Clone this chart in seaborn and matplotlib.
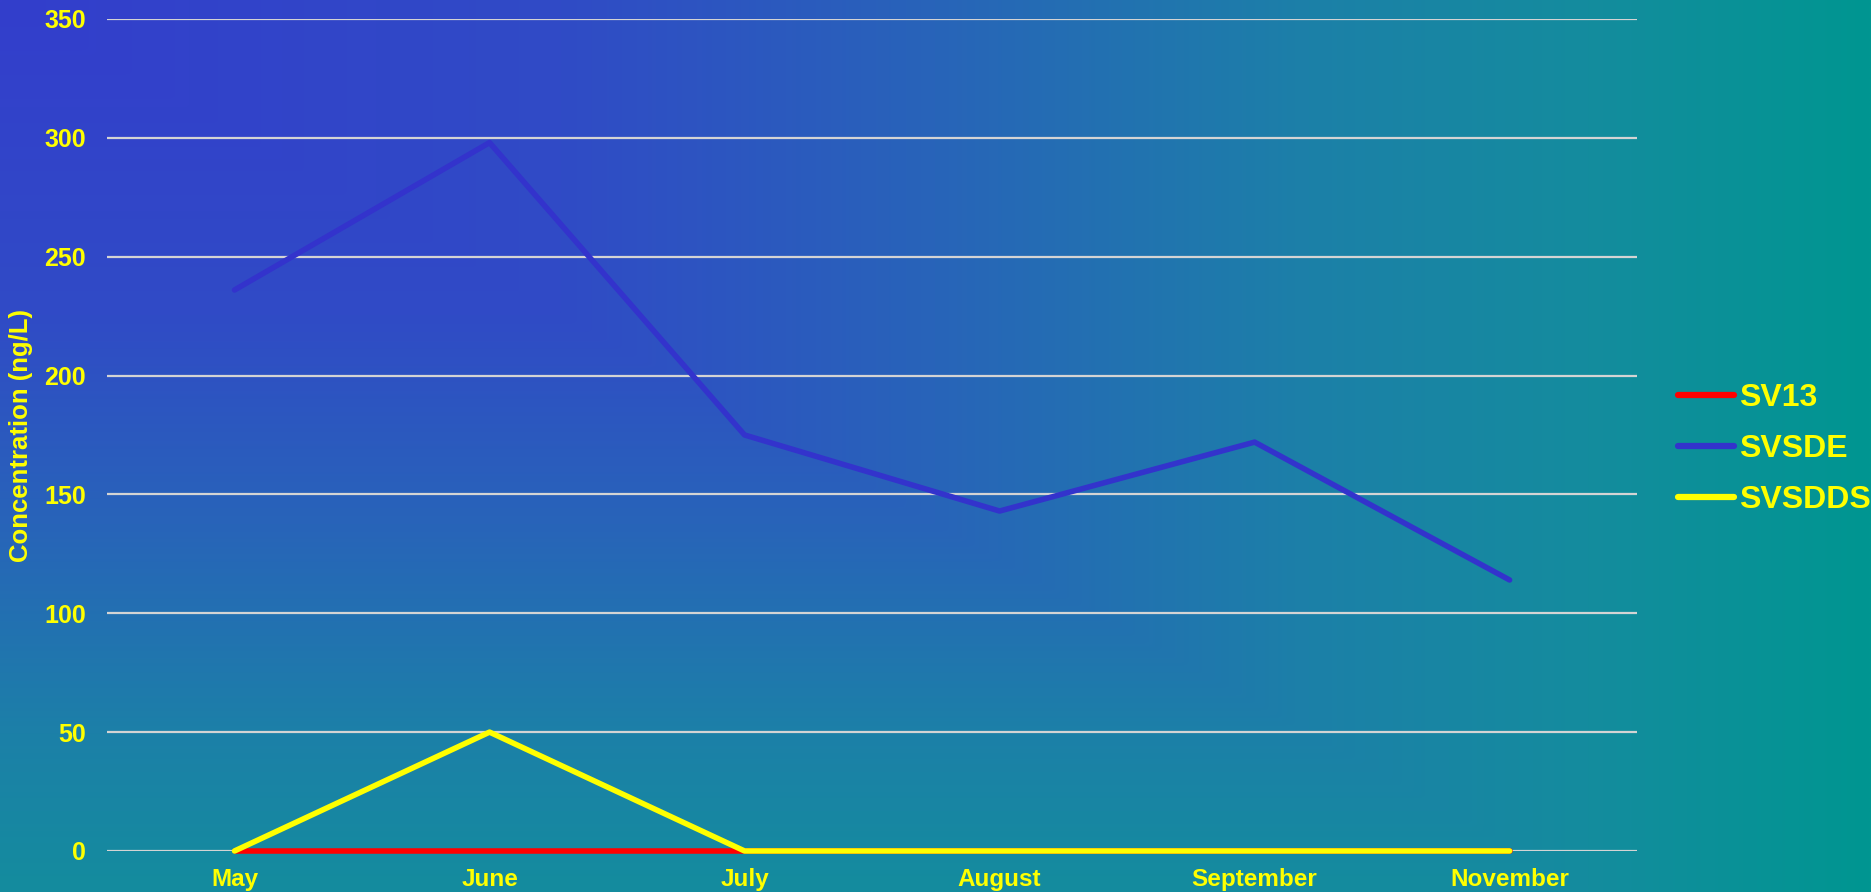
import numpy as np
import pandas as pd
import matplotlib
matplotlib.use("Agg")
import matplotlib.pyplot as plt
import seaborn as sns

months = ["May", "June", "July", "August", "September", "November"]
sv13 = [0, 0, 0, 0, 0, 0]
svsde = [236, 298, 175, 143, 172, 114]
svsdds = [0, 50, 0, 0, 0, 0]
series_names = ["SV13", "SVSDE", "SVSDDS"]
series_colors = ["#FF0000", "#3333CC", "#FFFF00"]
y_ticks = [0, 50, 100, 150, 200, 250, 300, 350]

df = pd.DataFrame({
    "month": months * 3,
    "value": sv13 + svsde + svsdds,
    "series": [s for s in series_names for _ in months],
})

sns.set_style("white")
plt.rcParams["font.family"] = ["Liberation Sans", "DejaVu Sans"]

fig = plt.figure(figsize=(18.71, 8.92), dpi=100)

# gradient background: blue in the top-left corner fading to teal
bg = fig.add_axes([0, 0, 1, 1], zorder=-10)
h, w = 180, 380
yy, xx = np.mgrid[0:1:h * 1j, 0:1:w * 1j]
t = np.maximum(xx, 0.85 * yy)
stops = [0, 0.3, 0.5, 0.7, 0.85, 1.0]
cols = np.array([[51, 62, 204], [48, 75, 198], [40, 100, 185],
                 [28, 128, 168], [20, 140, 158], [0, 150, 145]]) / 255
img = np.stack([np.interp(t, stops, cols[:, k]) for k in range(3)], axis=-1)
bg.imshow(img, aspect="auto", extent=[0, 1, 0, 1], interpolation="bilinear")
bg.set_axis_off()

ax = fig.add_axes([0.0572, 0.046, 0.8178, 0.9327])
ax.set_facecolor("none")

sns.lineplot(data=df, x="month", y="value", hue="series", hue_order=series_names,
             palette=series_colors, sort=False, linewidth=4.0, ax=ax,
             solid_capstyle="round", clip_on=False, legend=False)

ax.set_xlim(-0.5, 5.5)
ax.set_ylim(0, 350)
ax.set_yticks(y_ticks)
ax.grid(axis="y", color="#D4D4D4", linewidth=1.6, zorder=0)
ax.set_axisbelow(True)
for sp in ax.spines.values():
    sp.set_visible(False)
ax.tick_params(axis="both", length=0, colors="#FFFF00")
ax.tick_params(axis="y", pad=15, labelsize=18)
ax.tick_params(axis="x", pad=12, labelsize=17.5)
for lbl in ax.get_xticklabels() + ax.get_yticklabels():
    lbl.set_fontweight("bold")
ax.set_xlabel("")
ax.set_ylabel("")
fig.text(21 / 1871, 1 - 435 / 892, "Concentration (ng/L)", rotation=90,
         ha="center", va="center", color="#FFFF00", fontsize=18.5, fontweight="bold")

handles = [plt.Line2D([], [], color=c, linewidth=4.5, solid_capstyle="round") for c in series_colors]
leg = fig.legend(handles, series_names, loc="center left", bbox_to_anchor=(0.8816, 0.4966),
                 frameon=False, handlelength=1.75, handletextpad=0.15, labelspacing=0.65,
                 prop={"size": 23, "weight": "bold"})
for t in leg.get_texts():
    t.set_color("#FFFF00")

fig.savefig("out.png", dpi=100)
